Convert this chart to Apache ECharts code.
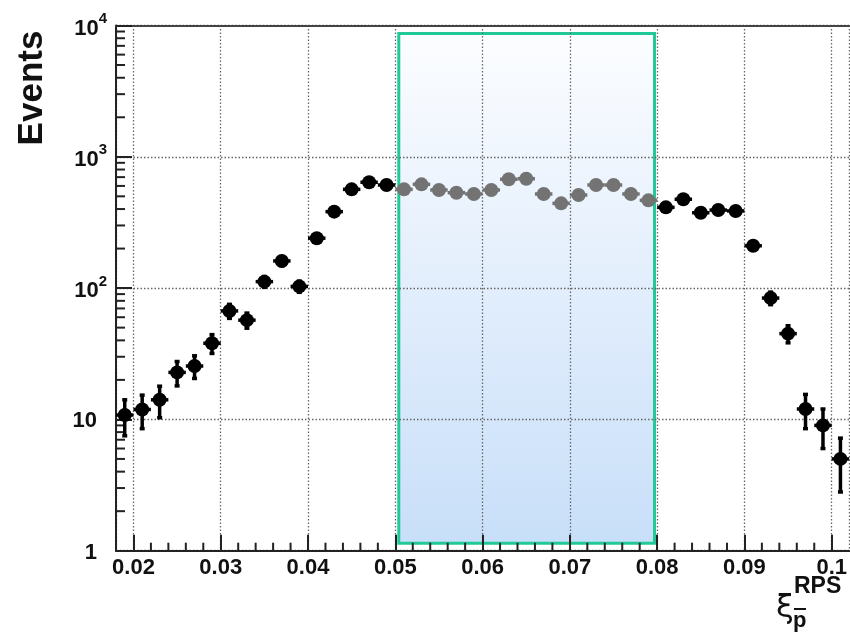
<!DOCTYPE html>
<html><head><meta charset="utf-8">
<script src="https://cdn.jsdelivr.net/npm/echarts@6/dist/echarts.min.js"></script>
<style>html,body{margin:0;padding:0;background:#fff}#c{width:850px;height:638px}</style>
</head><body><div id="c"></div>
<script>
// ---- data ----
const binCenters = [0.019,0.021,0.023,0.025,0.027,0.029,0.031,0.033,0.035,0.037,0.039,
  0.041,0.043,0.045,0.047,0.049,0.051,0.053,0.055,0.057,0.059,0.061,0.063,0.065,0.067,
  0.069,0.071,0.073,0.075,0.077,0.079,0.081,0.083,0.085,0.087,0.089,0.091,0.093,0.095,
  0.097,0.099,0.101];
const events = [10.8,11.9,14.1,22.8,25.5,38,67,57,112,161,103,
  240,382,565,640,610,565,617,559,533,521,559,674,681,521,
  442,512,610,610,521,466,412,475,375,393,387,210,84,45,
  12,9,5];
const eventErrors = [3.3,3.4,3.8,4.8,5.0,6.2,8.2,7.5,10.6,12.7,10.1,
  15.5,19.5,23.8,25.3,24.7,23.8,24.8,23.6,23.1,22.8,23.6,26,26.1,22.8,
  21,22.6,24.7,24.7,22.8,21.6,20.3,21.8,19.4,19.8,19.7,14.5,9.2,6.7,
  3.5,3.0,2.2];
const binHalfWidth = 0.001;
const windowX = [0.0504, 0.0797];
const windowY = [1.14, 8700];
const xRange = [0.018, 0.102];
const yRange = [1, 10000];
const yTickLabels = {1:['1',''], 10:['10',''], 100:['10','2'], 1000:['10','3'], 10000:['10','4']};
const xTitle = {symbol:'ξ', sup:'RPS', sub:'p'};
const yTitle = 'Events';

// minor tick positions (axis decoration)
const minorTicks = [];
for (let k = 10; k <= 50; k++) { if (k % 5 !== 0) minorTicks.push([k*0.002, 1, 0]); }
for (let d = 1; d <= 1000; d *= 10) for (let m = 2; m <= 9; m++) minorTicks.push([xRange[0], m*d, 1]);

const BLACK = '#000000', GRAY = '#737373', AX = '#222222';
const FONT = '"Liberation Sans", Arial, sans-serif';

const chart = echarts.init(document.getElementById('c'), null, {renderer:'canvas'});
const pts = binCenters.map((x,i)=>[x, events[i], eventErrors[i]]);

chart.setOption({
  animation:false,
  backgroundColor:'#fff',
  grid:{left:116, top:25.5, width:736, height:525.2, containLabel:false},
  xAxis:[{
    type:'value', min:xRange[0], max:xRange[1], splitNumber:8,
    axisLine:{show:true, onZero:false, lineStyle:{color:AX, width:2}},
    axisTick:{show:true, inside:true, length:16, lineStyle:{color:AX, width:2}},
    axisLabel:{show:true, showMinLabel:false, showMaxLabel:false, margin:6,
      color:'#111', fontFamily:FONT, fontWeight:'bold', fontSize:22,
      formatter:v=>String(+v.toFixed(3))},
    splitLine:{show:true, lineStyle:{color:'#666', width:1.3, type:[1.5,2]}}
  },{
    type:'value', position:'top', min:xRange[0], max:xRange[1], splitNumber:8,
    axisLine:{show:true, onZero:false, lineStyle:{color:'#444', width:2}},
    axisTick:{show:false}, axisLabel:{show:false}, splitLine:{show:false}
  }],
  yAxis:{
    type:'log', logBase:10, min:yRange[0], max:yRange[1],
    axisLine:{show:true, onZero:false, lineStyle:{color:AX, width:2}},
    axisTick:{show:true, inside:true, length:16, lineStyle:{color:AX, width:2}},
    axisLabel:{show:true, margin:9, color:'#111',
      formatter:v=>{const t=yTickLabels[Math.round(v)]; if(!t) return '';
        return t[1] ? '{b|'+t[0]+'}{s|'+t[1]+'}' : '{p|'+t[0]+'}';},
      rich:{
        b:{fontFamily:FONT, fontWeight:'bold', fontSize:22, color:'#111', padding:[6,0,0,0]},
        p:{fontFamily:FONT, fontWeight:'bold', fontSize:22, color:'#111', padding:[4,10,0,0]},
        s:{fontFamily:FONT, fontWeight:'bold', fontSize:15, color:'#111', verticalAlign:'top', padding:[0,0,12,0]}
      }},
    splitLine:{show:true, lineStyle:{color:'#666', width:1.3, type:[1.5,2]}}
  },
  series:[
    {
      type:'custom', name:'window', z:-1, silent:true,
      data:[[windowX[0], windowX[1], windowY[0], windowY[1]]],
      renderItem:(p, api)=>{
        const a = api.coord([api.value(0), api.value(3)]);
        const b = api.coord([api.value(1), api.value(2)]);
        return {type:'rect', shape:{x:a[0], y:a[1], width:b[0]-a[0], height:b[1]-a[1]},
          style:{fill:new echarts.graphic.LinearGradient(0,0,0,1,[
            {offset:0,color:'#fcfdff'},{offset:1,color:'#c8dff9'}]),
            stroke:'#20c997', lineWidth:3}};
      }
    },
    {
      type:'custom', name:'minor ticks', silent:true, z:3,
      data:minorTicks,
      renderItem:(p, api)=>{
        const c = api.coord([api.value(0), api.value(1)]);
        const vert = api.value(2) === 0;
        return {type:'line', shape: vert ? {x1:c[0], y1:c[1], x2:c[0], y2:c[1]-8}
                                         : {x1:c[0], y1:c[1], x2:c[0]+9, y2:c[1]},
          style:{stroke:AX, lineWidth:2}};
      }
    },
    {
      type:'custom', name:'Events', z:5,
      data:pts, encode:{x:0, y:1},
      renderItem:(p, api)=>{
        const x = api.value(0), v = api.value(1), e = api.value(2);
        const inWin = x > windowX[0] && x < windowX[1];
        const col = inWin ? GRAY : BLACK;
        const c = api.coord([x, v]);
        const lo = api.coord([x, Math.max(v - e, 0.01)]);
        const hi = api.coord([x, v + e]);
        const l = api.coord([x - binHalfWidth, v]);
        const r = api.coord([x + binHalfWidth, v]);
        const st = {stroke:col, lineWidth:3.5};
        return {type:'group', children:[
          {type:'line', shape:{x1:c[0], y1:lo[1], x2:c[0], y2:hi[1]}, style:st},
          {type:'line', shape:{x1:c[0]-2.5, y1:lo[1], x2:c[0]+2.5, y2:lo[1]}, style:st},
          {type:'line', shape:{x1:c[0]-2.5, y1:hi[1], x2:c[0]+2.5, y2:hi[1]}, style:st},
          {type:'line', shape:{x1:l[0], y1:c[1], x2:r[0], y2:c[1]}, style:st},
          {type:'circle', shape:{cx:c[0], cy:c[1], r:7}, style:{fill:col}}
        ]};
      }
    }
  ],
  graphic:[
    {type:'text', x:32, y:88, rotation:Math.PI/2,
      style:{text:yTitle, font:'bold 35px '+FONT, fill:'#111', align:'center', verticalAlign:'middle'}},
    {type:'text', x:785, y:609,
      style:{text:xTitle.symbol, font:'32px "DejaVu Sans", sans-serif', fill:'#111', align:'center', verticalAlign:'middle'}},
    {type:'text', x:794, y:587,
      style:{text:xTitle.sup, font:'bold 23px '+FONT, fill:'#111', align:'left', verticalAlign:'middle'}},
    {type:'text', x:793, y:621,
      style:{text:xTitle.sub, font:'bold 22px '+FONT, fill:'#111', align:'left', verticalAlign:'middle'}},
    {type:'line', shape:{x1:794, y1:609, x2:806, y2:609}, style:{stroke:'#111', lineWidth:2}}
  ]
});
</script>
</body></html>
